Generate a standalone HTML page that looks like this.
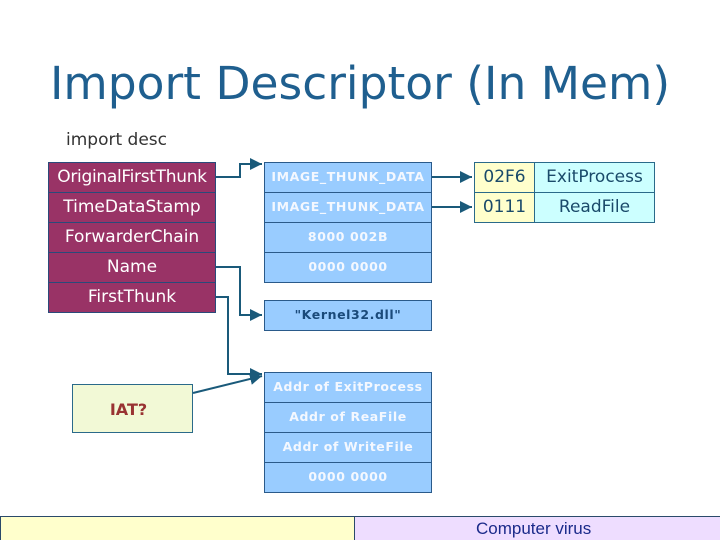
<!DOCTYPE html>
<html><head><style>
body{margin:0;width:720px;height:540px;overflow:hidden;background:#fff;font-family:"DejaVu Sans","Liberation Sans",sans-serif;position:relative}
.a{position:absolute;box-sizing:border-box;text-align:center}
.m{background:#993366;color:#fff;border:1px solid #2a4a7a;font-size:17px;line-height:28px;white-space:nowrap}
.b{background:#99ccff;color:#f4f8ff;border:1px solid #2a5a8a;font-size:12.5px;font-weight:bold;line-height:28px;letter-spacing:0.6px;white-space:nowrap}
</style></head><body>
<div class="a" style="left:50px;top:57px;font-size:45.5px;color:#1f5f8f;text-align:left;white-space:nowrap">Import Descriptor (In Mem)</div>
<div class="a" style="left:66px;top:130px;font-size:17px;color:#333;text-align:left">import desc</div>

<div class="a m" style="left:48px;top:162px;width:168px;height:31px;letter-spacing:-0.3px">OriginalFirstThunk</div>
<div class="a m" style="left:48px;top:192px;width:168px;height:31px">TimeDataStamp</div>
<div class="a m" style="left:48px;top:222px;width:168px;height:31px">ForwarderChain</div>
<div class="a m" style="left:48px;top:252px;width:168px;height:31px">Name</div>
<div class="a m" style="left:48px;top:282px;width:168px;height:31px">FirstThunk</div>

<div class="a b" style="left:264px;top:162px;width:168px;height:31px">IMAGE_THUNK_DATA</div>
<div class="a b" style="left:264px;top:192px;width:168px;height:31px">IMAGE_THUNK_DATA</div>
<div class="a b" style="left:264px;top:222px;width:168px;height:31px">8000 002B</div>
<div class="a b" style="left:264px;top:252px;width:168px;height:31px">0000 0000</div>
<div class="a b" style="left:264px;top:300px;width:168px;height:31px;color:#1a4a7a">"Kernel32.dll"</div>

<div class="a b" style="left:264px;top:372px;width:168px;height:31px">Addr of ExitProcess</div>
<div class="a b" style="left:264px;top:402px;width:168px;height:31px">Addr of ReaFile</div>
<div class="a b" style="left:264px;top:432px;width:168px;height:31px">Addr of WriteFile</div>
<div class="a b" style="left:264px;top:462px;width:168px;height:31px">0000 0000</div>

<div class="a" style="left:474px;top:162px;width:61px;height:31px;background:#ffffcc;border:1px solid #2a6a8a;color:#1a4a6a;font-size:17px;line-height:29px">02F6</div>
<div class="a" style="left:534px;top:162px;width:121px;height:31px;background:#ccffff;border:1px solid #2a6a8a;color:#1a4a6a;font-size:17px;line-height:29px">ExitProcess</div>
<div class="a" style="left:474px;top:192px;width:61px;height:31px;background:#ffffcc;border:1px solid #2a6a8a;color:#1a4a6a;font-size:17px;line-height:29px">0111</div>
<div class="a" style="left:534px;top:192px;width:121px;height:31px;background:#ccffff;border:1px solid #2a6a8a;color:#1a4a6a;font-size:17px;line-height:29px">ReadFile</div>

<div class="a" style="left:72px;top:384px;width:121px;height:49px;background:#f2f9d6;border:1px solid #2a6a8a;color:#993333;font-weight:bold;font-size:16px;padding-right:8px;line-height:50px">IAT?</div>

<svg class="a" style="left:0;top:0" width="720" height="540">
<defs><marker id="ar" markerWidth="8" markerHeight="8" refX="6" refY="3" orient="auto"><path d="M0,0L6,3L0,6z" fill="#1a5a7a"/></marker></defs>
<g stroke="#1a5a7a" stroke-width="2" fill="none">
<polyline points="216,177 240,177 240,164 262,164" marker-end="url(#ar)"/>
<polyline points="216,267 240,267 240,315 262,315" marker-end="url(#ar)"/>
<polyline points="216,297 228,297 228,374 262,374" marker-end="url(#ar)"/>
<line x1="193" y1="393" x2="262" y2="376" marker-end="url(#ar)"/>
<line x1="432" y1="177" x2="472" y2="177" marker-end="url(#ar)"/>
<line x1="432" y1="207" x2="472" y2="207" marker-end="url(#ar)"/>
</g></svg>

<div class="a" style="left:0;top:516px;width:355px;height:24px;background:#ffffcc;border:1px solid #2a4a6a;border-bottom:none"></div>
<div class="a" style="left:354px;top:516px;width:366px;height:24px;background:#eeddff;border:1px solid #2a4a6a;border-bottom:none;border-right:none;color:#1a2a8a;font-size:17px;line-height:24px;text-align:left;padding-left:121px;font-family:'Liberation Sans',sans-serif">Computer virus</div>
</body></html>
